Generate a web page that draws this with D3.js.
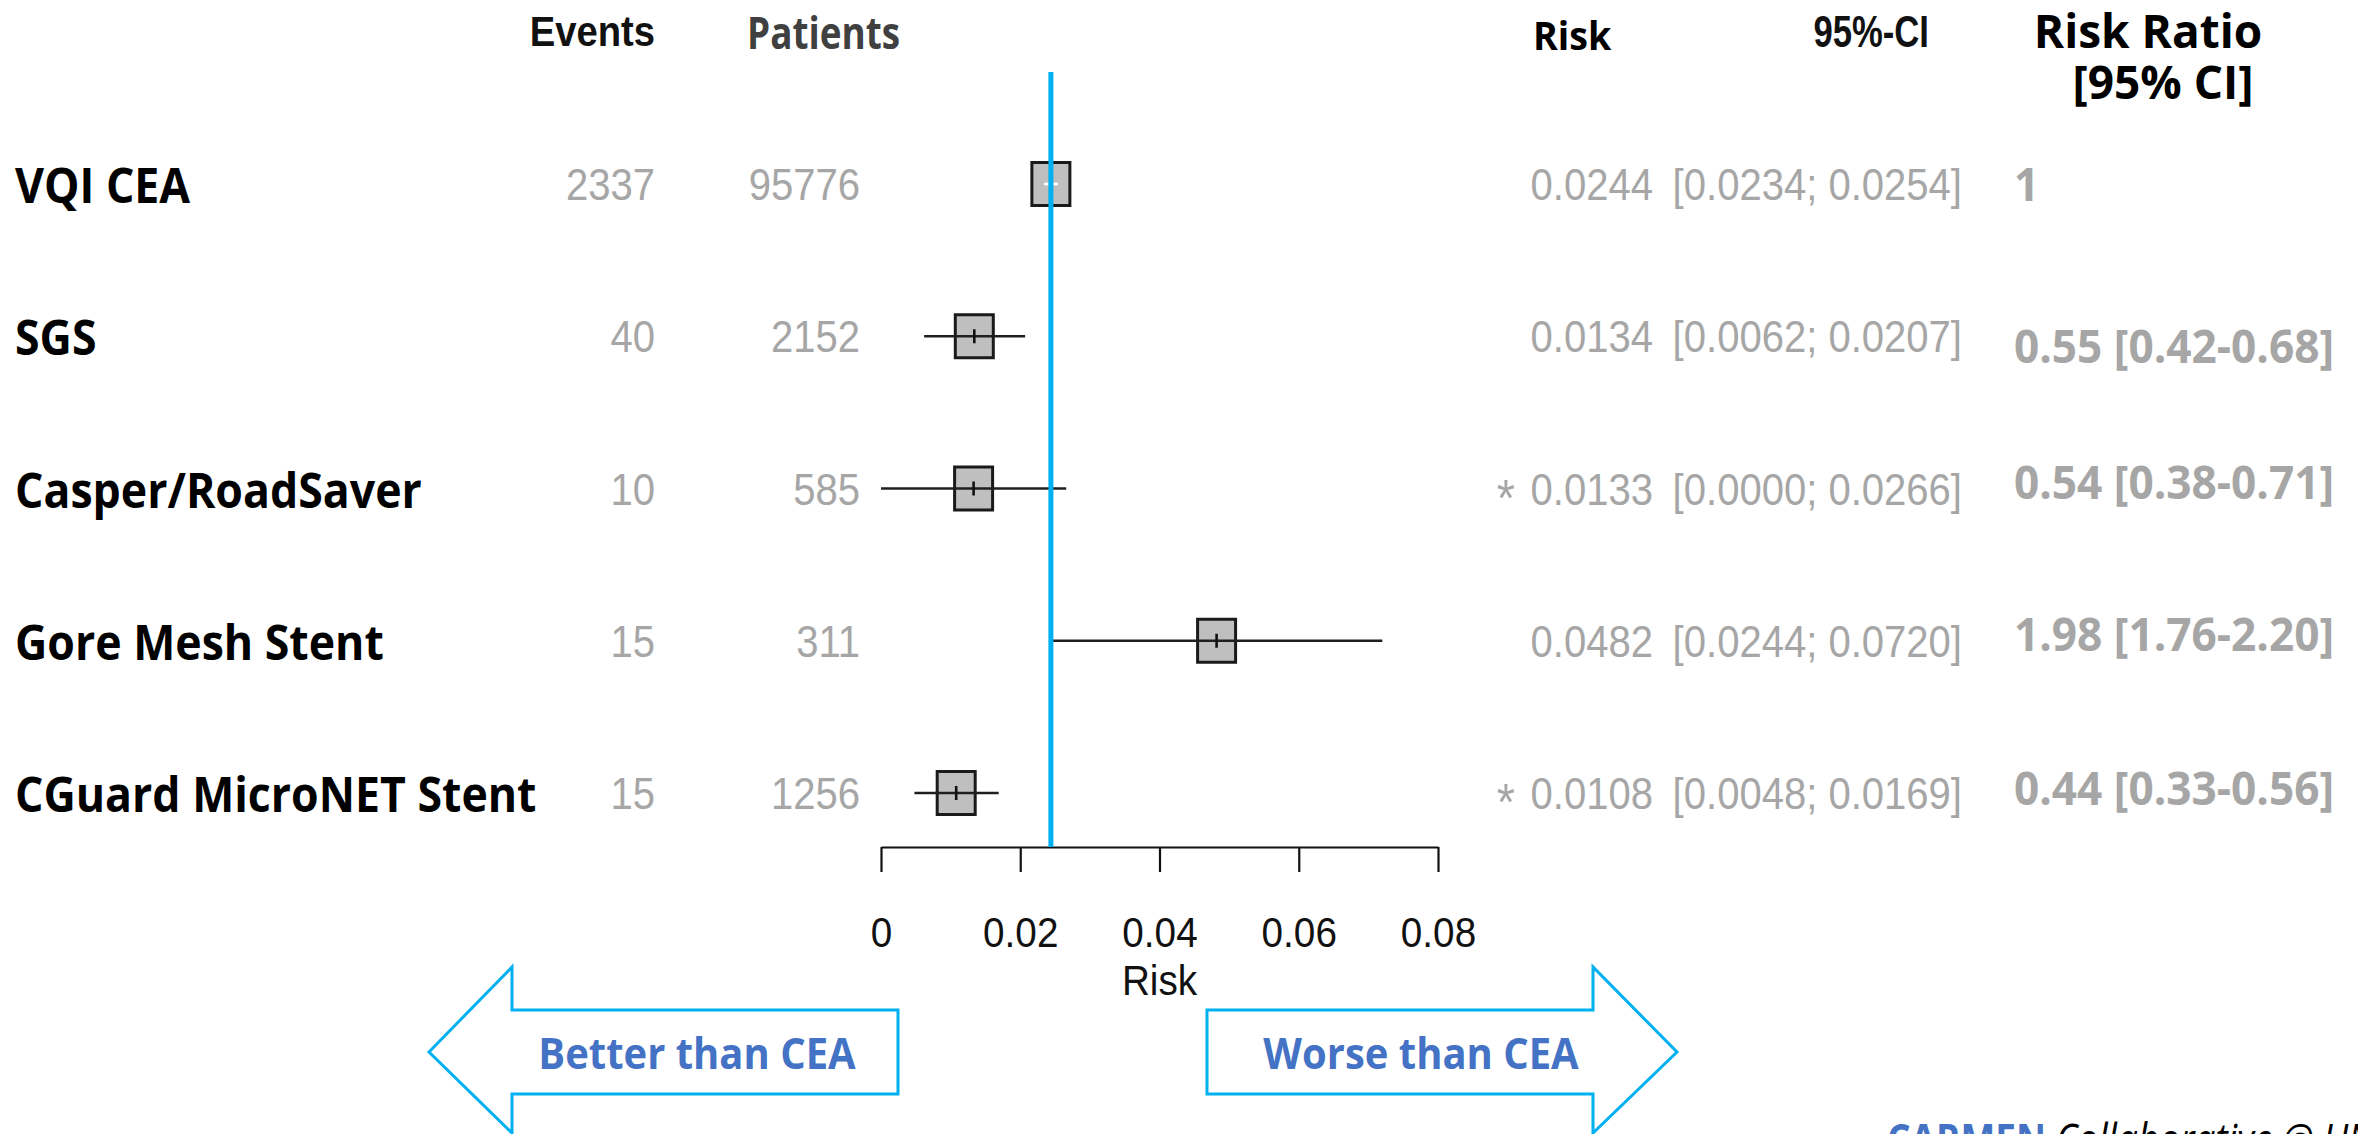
<!DOCTYPE html>
<html>
<head>
<meta charset="utf-8">
<script src="https://cdn.jsdelivr.net/npm/d3@7"></script>
<style>
  html, body { margin: 0; padding: 0; background: #ffffff; }
  svg { display: block; }
</style>
</head>
<body>
<svg id="chart" width="2358" height="1134"></svg>
<script>
// ---------------- DATA ----------------
const studies   = ["VQI CEA", "SGS", "Casper/RoadSaver", "Gore Mesh Stent", "CGuard MicroNET Stent"];
const events    = [2337, 40, 10, 15, 15];
const patients  = [95776, 2152, 585, 311, 1256];
const risk      = [0.0244, 0.0134, 0.0133, 0.0482, 0.0108];
const ciLow     = [0.0234, 0.0062, 0.0000, 0.0244, 0.0048];
const ciHigh    = [0.0254, 0.0207, 0.0266, 0.0720, 0.0169];
const flagged   = [false, false, true, false, true];
const rr        = [1, 0.55, 0.54, 1.98, 0.44];
const rrLow     = [null, 0.42, 0.38, 1.76, 0.33];
const rrHigh    = [null, 0.68, 0.71, 2.20, 0.56];
const tickValues = [0, 0.02, 0.04, 0.06, 0.08];
const tickLabels = ["0", "0.02", "0.04", "0.06", "0.08"];
const referenceRisk = 0.0244;
const headers = { events: "Events", patients: "Patients", risk: "Risk", ci: "95%-CI",
                  rr1: "Risk Ratio", rr2: "[95% CI]", axis: "Risk" };
const arrowLabels = ["Better than CEA", "Worse than CEA"];

// ---------------- LAYOUT / STYLE ----------------
const svg = d3.select("#chart");
const NARROW = "'Liberation Sans', Arial, sans-serif";
const SANS = "'Open Sans', 'Noto Sans', sans-serif";
const GREY = "#a6a6a6";
const BLUE = "#00b0f0";
const TXTBLUE = "#4472c4";

const x = d3.scaleLinear().domain([0, 0.08]).range([881, 1438]);
const y = d3.scalePoint().domain(studies).range([184, 793]);
const rrDy = [17, 27, 10, 10, 12];   // vertical placement of the risk-ratio column, per row

function txt(g, px, py, s, st) {
  return g.append("text")
    .attr("transform", `translate(${px},${py}) scale(${st.sx || 1},1)`)
    .attr("text-anchor", st.anchor || "start")
    .style("font-family", st.family)
    .style("font-size", st.size + "px")
    .style("font-weight", st.weight || "normal")
    .style("font-style", st.italic ? "italic" : "normal")
    .attr("fill", st.fill)
    .text(s);
}

const numStyle = { family: NARROW, size: 45, sx: 0.89, fill: GREY, anchor: "end" };
const labStyle = { family: SANS, size: 48, sx: 0.93, weight: 700, fill: "#000" };
const rrStyle  = { family: SANS, size: 47, sx: 0.94, weight: 700, fill: GREY };

// ---------------- HEADERS ----------------
const hg = svg.append("g");
txt(hg, 655, 46, headers.events, { family: NARROW, size: 42, sx: 0.91, weight: 700, fill: "#111", anchor: "end" });
txt(hg, 747, 49, headers.patients, { family: SANS, size: 45, sx: 0.82, weight: 700, fill: "#404040" });
txt(hg, 1533, 50, headers.risk, { family: SANS, size: 40, sx: 0.94, weight: 700, fill: "#000" });
txt(hg, 1929, 47, headers.ci, { family: NARROW, size: 45, sx: 0.77, weight: 700, fill: "#111", anchor: "end" });
const rrHead = hg.append("text")
  .attr("text-anchor", "middle")
  .style("font-family", SANS).style("font-size", "46px").style("font-weight", 700)
  .attr("fill", "#000");
rrHead.append("tspan").attr("x", 2148).attr("y", 48).text(headers.rr1);
rrHead.append("tspan").attr("x", 2163).attr("y", 99).text(headers.rr2);

// ---------------- ROWS ----------------
const f4 = d3.format(".4f");
const f2 = d3.format(".2f");
const rows = svg.append("g");
studies.forEach((s, i) => {
  const cy = y(s);
  txt(rows, 15, cy + 19, s, labStyle);
  txt(rows, 655, cy + 16, String(events[i]), numStyle);
  txt(rows, 860, cy + 16, String(patients[i]), numStyle);
  if (flagged[i]) txt(rows, 1515, cy + 27, "*", { family: NARROW, size: 52, sx: 0.9, fill: GREY, anchor: "end" });
  txt(rows, 1653, cy + 16, f4(risk[i]), numStyle);
  txt(rows, 1962, cy + 16, `[${f4(ciLow[i])}; ${f4(ciHigh[i])}]`, numStyle);
  const rrText = rrLow[i] == null ? String(rr[i]) : `${f2(rr[i])} [${f2(rrLow[i])}-${f2(rrHigh[i])}]`;
  txt(rows, 2014, cy + rrDy[i], rrText, rrStyle);
});

// ---------------- FOREST MARKS ----------------
const BW = 38, BH = 43;
const marks = svg.append("g");
studies.forEach((s, i) => {
  const cy = y(s);
  const cx = x(risk[i]);
  const inside = (x(ciHigh[i]) - x(ciLow[i])) < BW;
  marks.append("rect")
    .attr("x", cx - BW / 2).attr("y", cy - BH / 2)
    .attr("width", BW).attr("height", BH)
    .attr("fill", "#bfbfbf").attr("stroke", "#1a1a1a").attr("stroke-width", 3);
  marks.append("line")
    .attr("x1", x(ciLow[i])).attr("x2", x(ciHigh[i]))
    .attr("y1", cy).attr("y2", cy)
    .attr("stroke", inside ? "#ffffff" : "#1f1f1f").attr("stroke-width", 2.6);
  marks.append("line")
    .attr("x1", cx).attr("x2", cx)
    .attr("y1", cy - 7).attr("y2", cy + 7)
    .attr("stroke", inside ? "#ffffff" : "#111").attr("stroke-width", 2.6);
});

// ---------------- AXIS ----------------
const axisG = svg.append("g")
  .attr("transform", "translate(0,847)")
  .call(d3.axisBottom(x).tickValues(tickValues)
        .tickFormat((d, i) => tickLabels[i]).tickSize(25).tickSizeOuter(0));
axisG.select(".domain").attr("stroke", "#111").attr("stroke-width", 2.2);
axisG.selectAll(".tick line").attr("stroke", "#111").attr("stroke-width", 2.2);
axisG.selectAll(".tick text")
  .attr("y", null).attr("dy", null)
  .attr("transform", "translate(0,100) scale(0.9,1)")
  .attr("fill", "#111")
  .style("font-family", NARROW).style("font-size", "43px");
txt(svg, x(0.04), 995, headers.axis, { family: NARROW, size: 43, sx: 0.9, fill: "#111", anchor: "middle" });

// reference line (on top)
svg.append("line")
  .attr("x1", x(referenceRisk)).attr("x2", x(referenceRisk))
  .attr("y1", 72).attr("y2", 847)
  .attr("stroke", BLUE).attr("stroke-width", 5);

// ---------------- ARROWS ----------------
const arrows = svg.append("g");
const leftArrow  = [[429,1052],[512,967],[512,1010],[898,1010],[898,1094],[512,1094],[512,1133]];
const rightArrow = [[1207,1010],[1593,1010],[1593,967],[1677,1052],[1593,1133],[1593,1094],[1207,1094]];
[leftArrow, rightArrow].forEach(pts => {
  arrows.append("path")
    .attr("d", d3.line()(pts) + "Z")
    .attr("fill", "#fff").attr("stroke", BLUE).attr("stroke-width", 3).attr("stroke-linejoin", "miter");
});
txt(arrows, 697, 1069, arrowLabels[0], { family: SANS, size: 43, sx: 0.93, weight: 700, fill: TXTBLUE, anchor: "middle" });
txt(arrows, 1421, 1069, arrowLabels[1], { family: SANS, size: 43, sx: 0.93, weight: 700, fill: TXTBLUE, anchor: "middle" });

// ---------------- FOOTER ----------------
const foot = svg.append("text")
  .attr("transform", "translate(1887,1155) scale(0.86,1)")
  .style("font-family", SANS).style("font-size", "43px");
foot.append("tspan").attr("fill", TXTBLUE).style("font-weight", 700).text("CARMEN");
foot.append("tspan").attr("fill", "#000").style("font-style", "italic").text(" Collaborative @ UNC");
</script>
</body>
</html>
